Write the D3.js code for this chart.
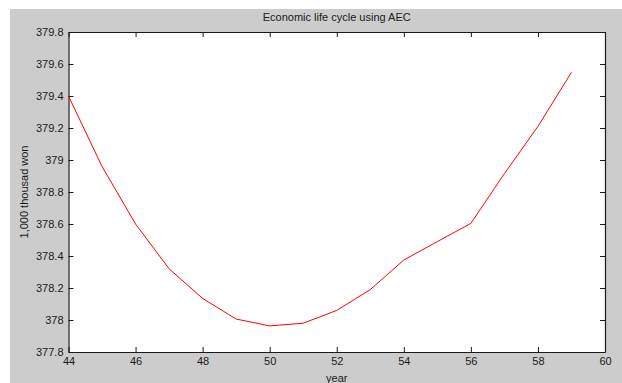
<!DOCTYPE html>
<html>
<head>
<meta charset="utf-8">
<script src="https://cdn.jsdelivr.net/npm/d3@7"></script>
<style>
  html, body { margin: 0; padding: 0; background: #ffffff; }
  svg { display: block; }
  text { font-family: "Liberation Sans", Arial, sans-serif; fill: #1a1a1a; }
</style>
</head>
<body>
<svg id="chart" width="622" height="383"></svg>
<script>
const titleText = "Economic life cycle using AEC";
const xLabelText = "year";
const yLabelText = "1,000 thousad won";

const years = [44, 45, 46, 47, 48, 49, 50, 51, 52, 53, 54, 55, 56, 57, 58, 59];
const aec = [379.40, 378.96, 378.60, 378.32, 378.135, 378.006, 377.963, 377.98, 378.06, 378.19, 378.375, 378.49, 378.604, 378.915, 379.21, 379.548];

const xTicks = [44, 46, 48, 50, 52, 54, 56, 58, 60];
const yTicks = [377.8, 378, 378.2, 378.4, 378.6, 378.8, 379, 379.2, 379.4, 379.6, 379.8];

const W = 622, H = 383;
const plot = { left: 68.5, top: 32, right: 605, bottom: 352 };

const svg = d3.select("#chart");

svg.append("rect").attr("x", 0).attr("y", 0).attr("width", W).attr("height", H).attr("fill", "#ffffff");
svg.append("rect").attr("x", 10).attr("y", 9).attr("width", W - 10).attr("height", H - 9).attr("fill", "#cccccc");
svg.append("rect")
  .attr("x", plot.left).attr("y", plot.top)
  .attr("width", plot.right - plot.left).attr("height", plot.bottom - plot.top)
  .attr("fill", "#ffffff");

const x = d3.scaleLinear().domain([44, 60]).range([plot.left, plot.right]);
const y = d3.scaleLinear().domain([377.8, 379.8]).range([plot.bottom, plot.top]);

const fmt = d => String(+(+d).toFixed(1));

function styleAxis(g) {
  g.selectAll("path").attr("stroke", "#1a1a1a").attr("stroke-width", 1.2);
  g.selectAll("line").attr("stroke", "#1a1a1a");
  g.selectAll("text").attr("font-size", 11).attr("font-family", "\"Liberation Sans\", Arial, sans-serif").attr("fill", "#1a1a1a");
}

svg.append("g").attr("transform", `translate(0,${plot.bottom})`)
  .call(d3.axisBottom(x).tickValues(xTicks).tickFormat(fmt).tickSizeInner(-5).tickSizeOuter(0).tickPadding(5))
  .call(styleAxis);
svg.append("g").attr("transform", `translate(0,${plot.top})`)
  .call(d3.axisTop(x).tickValues(xTicks).tickFormat("").tickSizeInner(-5).tickSizeOuter(0))
  .call(styleAxis);
svg.append("g").attr("transform", `translate(${plot.left},0)`)
  .call(d3.axisLeft(y).tickValues(yTicks).tickFormat(fmt).tickSizeInner(-5).tickSizeOuter(0).tickPadding(5))
  .call(styleAxis);
svg.append("g").attr("transform", `translate(${plot.right},0)`)
  .call(d3.axisRight(y).tickValues(yTicks).tickFormat("").tickSizeInner(-5).tickSizeOuter(0))
  .call(styleAxis);

const line = d3.line().x((d, i) => x(years[i])).y(d => y(d));
svg.append("path")
  .datum(aec)
  .attr("d", line)
  .attr("fill", "none")
  .attr("stroke", "#ff0000")
  .attr("stroke-width", 1);

svg.append("text")
  .attr("x", (plot.left + plot.right) / 2).attr("y", 20.5)
  .attr("text-anchor", "middle").attr("font-size", 11)
  .text(titleText);

svg.append("text")
  .attr("x", (plot.left + plot.right) / 2).attr("y", 382)
  .attr("text-anchor", "middle").attr("font-size", 11)
  .text(xLabelText);

svg.append("text")
  .attr("transform", `translate(28,${(plot.top + plot.bottom) / 2}) rotate(-90)`)
  .attr("text-anchor", "middle").attr("font-size", 11)
  .text(yLabelText);
</script>
</body>
</html>
